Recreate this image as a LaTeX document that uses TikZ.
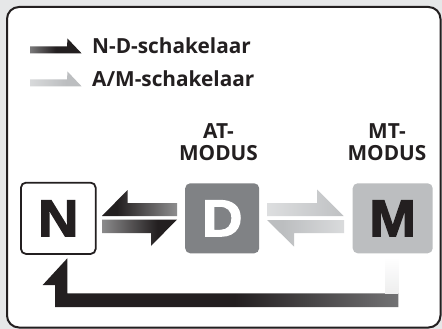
\documentclass[tikz,border=0pt]{standalone}
\usepackage{fontspec}
\setmainfont{Open Sans}
\newfontfamily\heavyfont[BoldFeatures={FakeBold=2.4,FakeStretch=1.08}]{Liberation Sans}
\definecolor{bg}{HTML}{E6E7E8}
\definecolor{dk}{HTML}{231F20}
\definecolor{dgray}{HTML}{808285}
\definecolor{lgray}{HTML}{BCBEC0}
\definecolor{fadedk}{HTML}{D1D3D4}
\definecolor{fadelt}{HTML}{ECEDEE}
\definecolor{mid}{HTML}{8A8B8D}
\pgfdeclarehorizontalshading{dkleft}{100bp}{color(0bp)=(dk); color(35bp)=(dk); color(100bp)=(fadedk)}
\pgfdeclarehorizontalshading{dkright}{100bp}{color(0bp)=(fadedk); color(62bp)=(dk); color(100bp)=(dk)}
\pgfdeclarehorizontalshading{legdk}{100bp}{color(0bp)=(fadedk); color(50bp)=(dk); color(100bp)=(dk)}
\pgfdeclarehorizontalshading{leglt}{100bp}{color(0bp)=(fadelt); color(60bp)=(lgray); color(100bp)=(lgray)}
\pgfdeclarehorizontalshading{ltright}{100bp}{color(0bp)=(fadelt); color(80bp)=(lgray); color(100bp)=(lgray)}
\pgfdeclarehorizontalshading{ltleft}{100bp}{color(0bp)=(lgray); color(35bp)=(lgray); color(100bp)=(fadelt)}
\pgfdeclarehorizontalshading{retarrow}{100bp}{color(0bp)=(dk); color(52bp)=(dk); color(82bp)=(mid); color(100bp)=(white)}
\tikzset{
  lbl/.style={font=\bfseries\fontsize{20.8}{21.5}\selectfont, text=dk, inner sep=0pt},
  bigbox/.style={rounded corners=5pt, inner sep=0pt, minimum height=70pt, font=\heavyfont\bfseries\fontsize{52}{52}\selectfont},
}
\begin{document}
\begin{tikzpicture}[x=1pt,y=-1pt]
\useasboundingbox (0,0) rectangle (442,329);
\fill[bg] (0,0) rectangle (442,329);
\draw[dk, line width=2pt, fill=white, rounded corners=12pt] (7,7) rectangle (440.5,327.5);

% legend
\shade[shading=legdk] (30,46.5) -- (67,46.5) -- (67.5,38.5) -- (81.7,53.5) -- (30,53.5) -- cycle;
\shade[shading=leglt] (30,79.5) -- (67,79.5) -- (67.5,71.5) -- (81.7,86.5) -- (30,86.5) -- cycle;
\node[lbl, anchor=base west] (lg1) at (92,53.3) {N-D-schakelaar};
\node[lbl, anchor=base west] (lg2) at (92,86.7) {A/M-schakelaar};

% mode labels
\node[lbl, anchor=base] (at1) at (218.5,139) {AT-};
\node[lbl, anchor=base] (at2) at (218.5,160.5) {MODUS};
\node[lbl, anchor=base] (mt1) at (387,139) {MT-};
\node[lbl, anchor=base] (mt2) at (387,160.5) {MODUS};

% boxes
\node[bigbox, draw=dk, line width=1.8pt, fill=white, minimum width=74.7pt, minimum height=71.3pt, text=dk] (N) at (58.3,218.3) {N};
\node[bigbox, fill=dgray, minimum width=74pt, text=white] (D) at (222.2,218.3) {D};
\node[bigbox, fill=lgray, minimum width=80pt, text=dk] (M) at (392.7,218.3) {M};

% N <-> D arrows
\shade[shading=dkleft] (102,216) -- (127.5,190) -- (127.5,203) -- (177,203) -- (177,216) -- cycle;
\shade[shading=dkright] (102,219.5) -- (177,219.5) -- (151,246) -- (151,233) -- (102,233) -- cycle;

% D <-> M arrows
\shade[shading=ltright] (267,203) -- (317,203) -- (317,189.5) -- (343.5,216) -- (267,216) -- cycle;
\shade[shading=ltleft] (267,220) -- (344,220) -- (344,233) -- (294,233) -- (294,246.5) -- cycle;

% return arrow
\shade[shading=retarrow] (67.3,258.3) -- (42.7,285) -- (55,285) -- (55,307) -- (398.3,307) -- (398.3,258) -- (385,258) -- (385,293.3) -- (67.3,293.3) -- cycle;
\shade[top color=white, bottom color=white!85!mid] (385,257.5) rectangle (398.3,293.3);
\end{tikzpicture}
\end{document}
